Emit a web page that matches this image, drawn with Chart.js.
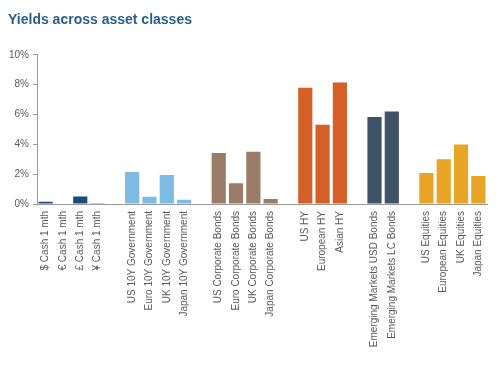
<!DOCTYPE html>
<html><head><meta charset="utf-8">
<script src="https://cdn.jsdelivr.net/npm/chart.js@4/dist/chart.umd.min.js"></script>
<style>html,body{margin:0;padding:0;background:#fff;}#wrap{width:500px;height:384px;}</style>
</head><body><div id="wrap"><canvas id="c" width="500" height="384"></canvas></div>
<script>
const categories = ["$ Cash 1 mth","€ Cash 1 mth","£ Cash 1 mth","¥ Cash 1 mth","",
 "US 10Y Government","Euro 10Y Government","UK 10Y Government","Japan 10Y Government","",
 "US Corporate Bonds","Euro Corporate Bonds","UK Corporate Bonds","Japan Corporate Bonds","",
 "US HY","European HY","Asian HY","",
 "Emerging Markets USD Bonds","Emerging Markets LC Bonds","",
 "US Equities","European Equities","UK Equities","Japan Equities"];
const yields = [0.15,-0.05,0.5,0.05,null,
 2.14,0.48,1.94,0.28,null,
 3.42,1.39,3.5,0.33,null,
 7.79,5.32,8.15,null,
 5.83,6.2,null,
 2.07,3.0,3.98,1.87];
const groups = ["cash","cash","cash","cash",null,"gov","gov","gov","gov",null,
 "corp","corp","corp","corp",null,"hy","hy","hy",null,"em","em",null,"eq","eq","eq","eq"];
const groupColors = {cash:"#1b4b7a",gov:"#7dbbe2",corp:"#9a7c69",hy:"#d45f27",em:"#3e5366",eq:"#e9a526"};
const yTicks = [0,2,4,6,8,10];

const font = "'Liberation Sans', Arial, sans-serif";
new Chart(document.getElementById('c'), {
  type: 'bar',
  data: { labels: categories, datasets: [{ data: yields,
    backgroundColor: groups.map(g => g ? groupColors[g] : 'transparent'),
    barPercentage: 0.82, categoryPercentage: 1.0 }] },
  options: {
    responsive: false, animation: false,
    layout: { padding: { left: 8, right: 13, top: 0, bottom: 0 } },
    plugins: {
      legend: { display: false }, tooltip: { enabled: false },
      title: { display: true, text: 'Yields across asset classes', align: 'start',
        color: '#2a5d8c', font: { family: font, size: 14, weight: 'bold' },
        padding: { top: 12, bottom: 26 } }
    },
    scales: {
      x: {
        grid: { display: false, drawTicks: false },
        border: { color: '#9a9a9a', width: 1 },
        ticks: { autoSkip: false, maxRotation: 90, minRotation: 90, padding: 7,
          color: '#595959', font: { family: font, size: 10 } },
        afterFit: s => { s.height = 180; }
      },
      y: {
        min: 0, max: 10,
        afterBuildTicks: s => { s.ticks = yTicks.map(v => ({ value: v })); },
        grid: { drawOnChartArea: false, drawTicks: true, tickLength: 4, color: '#9a9a9a' },
        border: { color: '#9a9a9a', width: 1 },
        ticks: { color: '#595959', padding: 4, font: { family: font, size: 10 },
          callback: v => v + '%' },
        afterFit: s => { s.width = 29; }
      }
    }
  }
});
</script></body></html>
